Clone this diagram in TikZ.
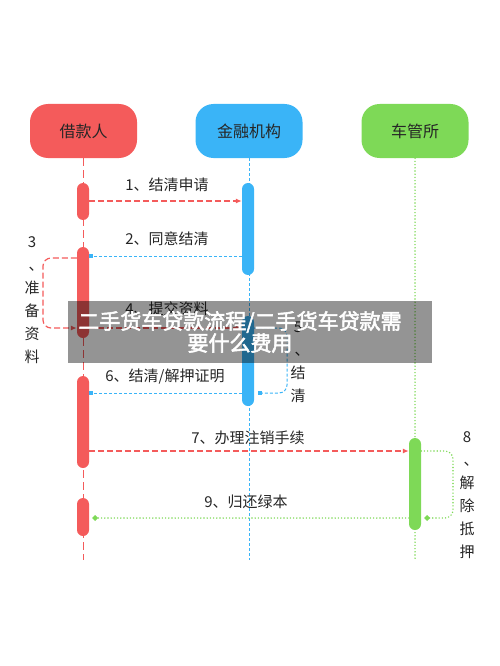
\documentclass[tikz,border=0pt]{standalone}
\usepackage{fontspec}
\setmainfont{Noto Sans CJK SC}
\newfontfamily\bannerfont[FakeBold=2.5]{Noto Sans CJK SC}
\usetikzlibrary{arrows.meta}
\definecolor{lenderred}{HTML}{F45B5B}
\definecolor{bankblue}{HTML}{3AB4F7}
\definecolor{dmvgreen}{HTML}{7ED957}
\newcommand{\vdun}{\hspace*{8pt}、}

\begin{document}
\begin{tikzpicture}[x=1pt,y=-1pt]
  \tikzset{HeadStyle/.style={rounded corners=18pt, minimum width=107pt, minimum height=54pt,
      text=black!85, font=\fontsize{16}{19}\selectfont},
    BarStyle/.style={rounded corners=6pt, minimum width=12pt, inner sep=0pt},
    RedMsg/.style={lenderred, line width=1.2pt, dash pattern=on 6pt off 3pt},
    BlueMsg/.style={bankblue, line width=1pt, dash pattern=on 3pt off 2pt},
    GreenMsg/.style={dmvgreen, line width=1.6pt, line cap=round, dash pattern=on 0pt off 3.2pt},
    MsgLabel/.style={font=\fontsize{15}{18}\selectfont, text=black!85},
    SideLabel/.style={font=\fontsize{15}{23}\selectfont, align=center, text=black!85, inner sep=0pt}
  }
  \useasboundingbox (0,0) rectangle (500,666);
  % heads
  \node[HeadStyle, fill=lenderred] (lender) at (83.5,131) {借款人};
  \node[HeadStyle, fill=bankblue] (bank) at (249,131) {金融机构};
  \node[HeadStyle, fill=dmvgreen] (dmv) at (415,131) {车管所};
  % lifelines
  \coordinate (bottom) at (0,560);
  \draw[RedMsg, line width=1.3pt, dash pattern=on 8pt off 4pt] (lender.south) -- (lender.south |- bottom);
  \draw[BlueMsg] (bank.south) -- (bank.south |- bottom);
  \draw[GreenMsg] (dmv.south) -- (dmv.south |- bottom);
  % activation bars
  \node[BarStyle, fill=lenderred, minimum height=37pt] (r1) at (83,201.5) {};
  \node[BarStyle, fill=lenderred, minimum height=91pt] (r2) at (83,292.5) {};
  \node[BarStyle, fill=lenderred, minimum height=92pt] (r3) at (83,422) {};
  \node[BarStyle, fill=lenderred, minimum height=38pt] (r4) at (83,517) {};
  \node[BarStyle, fill=bankblue, minimum height=92pt] (b1) at (248,229) {};
  \node[BarStyle, fill=bankblue, minimum height=90pt] (b2) at (248,361) {};
  \node[BarStyle, fill=dmvgreen, minimum height=92pt] (g1) at (415,484) {};
  % message levels
  \coordinate (y1) at (0,201);
  \coordinate (y2) at (0,256);
  \coordinate (y3) at (0,258);
  \coordinate (y4) at (0,328);
  \coordinate (y6) at (0,393);
  \coordinate (y7) at (0,451);
  \coordinate (y9) at (0,518);
  \coordinate (loopL) at (43,0);
  \coordinate (loopR) at (287,0);
  \coordinate (loopG) at (453,0);
  % messages
  \draw[RedMsg, -{Latex[length=6pt,width=5pt]}] (r1.east |- y1) -- (b1.west |- y1);
  \draw[BlueMsg, -{Square[length=4pt,width=4pt]}] (b1.west |- y2) -- (r2.east |- y2);
  \draw[RedMsg, rounded corners=8pt, -{Latex[length=6pt,width=5pt]}]
    (r2.west |- y3) -| (loopL |- y4) -- (r2.west |- y4);
  \draw[RedMsg, -{Latex[length=6pt,width=5pt]}] (r2.east |- y4) -- (b2.west |- y4);
  \draw[BlueMsg, rounded corners=8pt, -{Square[length=4pt,width=4pt]}]
    (b2.east |- y4) -| (loopR |- y6) -- ([xshift=4pt]b2.east |- y6);
  \draw[BlueMsg, -{Square[length=4pt,width=4pt]}] (b2.west |- y6) -- (r3.east |- y6);
  \draw[RedMsg, -{Latex[length=6pt,width=5pt]}] (r3.east |- y7) -- (g1.west |- y7);
  \draw[GreenMsg, rounded corners=8pt, -{Turned Square[length=6pt,width=6pt]}]
    (g1.east |- y7) -| (loopG |- y9) -- ([xshift=3pt]g1.east |- y9);
  \draw[GreenMsg, -{Turned Square[length=6pt,width=6pt]}] (g1.west |- y9) -- ([xshift=3pt]r4.east |- y9);
  % labels
  \node[MsgLabel] (m1) at (167,185) {1、结清申请};
  \node[MsgLabel] (m2) at (167,239) {2、同意结清};
  \node[MsgLabel] (m4) at (167,309) {4、提交资料};
  \node[MsgLabel] (m6) at (165,377) {6、结清/解押证明};
  \node[MsgLabel] (m7) at (248,438) {7、办理注销手续};
  \node[MsgLabel] (m9) at (246,502) {9、归还绿本};
  \node[SideLabel] (m3) at (32,300) {3\\\vdun\\准\\备\\资\\料};
  \node[SideLabel] (m5) at (298,362) {5\\\vdun\\结\\清};
  \node[SideLabel] (m8) at (467,495) {8\\\vdun\\解\\除\\抵\\押};
  % banner
  \fill[black, opacity=0.42] (68,301) rectangle (432,363);
  \node[text=white, align=center, font=\bannerfont\fontsize{21}{22}\selectfont] (banner) at (240,332)
    {二手货车贷款流程/二手货车贷款需\\要什么费用};
\end{tikzpicture}
\end{document}
